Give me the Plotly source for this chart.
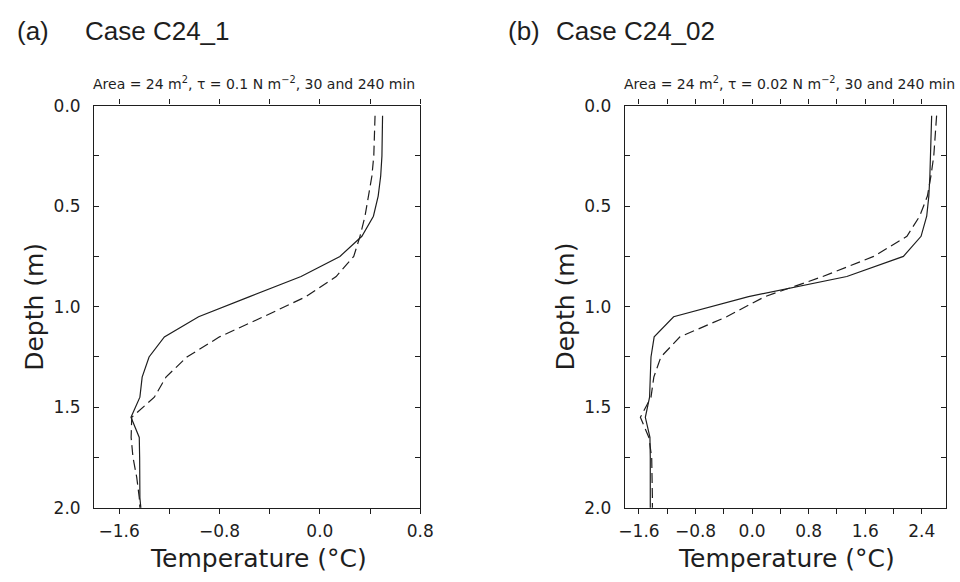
import plotly.graph_objects as go

# ---------------- data ----------------
depth_m = [0.05, 0.15, 0.25, 0.35, 0.45, 0.55, 0.65, 0.75, 0.85, 0.95,
           1.05, 1.15, 1.25, 1.35, 1.45, 1.55, 1.65, 1.75, 1.85, 1.95, 2.05]

# Case C24_1 (panel a)
a_30min = [0.50, 0.50, 0.495, 0.485, 0.465, 0.427, 0.335, 0.16, -0.15, -0.56,
           -0.967, -1.24, -1.362, -1.417, -1.435, -1.506, -1.44, -1.437, -1.436, -1.435, -1.42]
a_240min = [0.44, 0.437, 0.43, 0.415, 0.39, 0.36, 0.32, 0.27, 0.13, -0.11,
            -0.45, -0.80, -1.06, -1.227, -1.32, -1.50, -1.505, -1.49, -1.46, -1.44, -1.43]

# Case C24_02 (panel b)
b_30min = [2.54, 2.535, 2.525, 2.515, 2.50, 2.47, 2.39, 2.14, 1.34, -0.05,
           -1.11, -1.385, -1.43, -1.445, -1.45, -1.51, -1.445, -1.44, -1.44, -1.44, -1.44]
b_240min = [2.61, 2.595, 2.57, 2.53, 2.48, 2.37, 2.19, 1.72, 1.0, 0.18,
            -0.36, -1.02, -1.29, -1.39, -1.43, -1.58, -1.46, -1.42, -1.41, -1.41, -1.41]

depth_ticks = [0.0, 0.25, 0.5, 0.75, 1.0, 1.25, 1.5, 1.75, 2.0]
depth_ticklabels = ["0.0", "", "0.5", "", "1.0", "", "1.5", "", "2.0"]

a_temp_ticks = [-1.6, -1.2, -0.8, -0.4, 0.0, 0.4, 0.8]
a_temp_ticklabels = ["\u22121.6", "", "\u22120.8", "", "0.0", "", "0.8"]

b_temp_ticks = [-1.6, -1.2, -0.8, -0.4, 0.0, 0.4, 0.8, 1.2, 1.6, 2.0, 2.4, 2.8]
b_temp_ticklabels = ["\u22121.6", "", "\u22120.8", "", "0.0", "", "0.8", "", "1.6", "", "2.4", ""]

panel_letters = ["(a)", "(b)"]
panel_cases = ["Case C24_1", "Case C24_02"]
panel_subtitles = ["Area = 24 m<sup>2</sup>, \u03c4 = 0.1 N m<sup>\u22122</sup>, 30 and 240 min",
                   "Area = 24 m<sup>2</sup>, \u03c4 = 0.02 N m<sup>\u22122</sup>, 30 and 240 min"]
x_title = "Temperature (\u00b0C)"
y_title = "Depth (m)"

# ---------------- layout helpers ----------------
W, H = 960, 582
def fx(px):
    return px / W
def fy(py):
    return 1 - py / H

INK = "#1e1e1e"
LINE_W = 1.2

fig = go.Figure()

fig.add_trace(go.Scatter(x=a_30min, y=depth_m, mode="lines", name="30 min",
                         line=dict(color=INK, width=LINE_W), xaxis="x", yaxis="y",
                         showlegend=False))
fig.add_trace(go.Scatter(x=a_240min, y=depth_m, mode="lines", name="240 min",
                         line=dict(color=INK, width=LINE_W, dash="10px,5px"), xaxis="x", yaxis="y",
                         showlegend=False))
fig.add_trace(go.Scatter(x=b_30min, y=depth_m, mode="lines", name="30 min",
                         line=dict(color=INK, width=LINE_W), xaxis="x2", yaxis="y2",
                         showlegend=False))
fig.add_trace(go.Scatter(x=b_240min, y=depth_m, mode="lines", name="240 min",
                         line=dict(color=INK, width=LINE_W, dash="10px,5px"), xaxis="x2", yaxis="y2",
                         showlegend=False))

tickfont = dict(family="DejaVu Sans", size=17, color=INK)

common_x = dict(showgrid=False, zeroline=False, showline=True, linecolor=INK, linewidth=1.2,
                mirror="ticks", ticks="outside", ticklen=5, tickwidth=1.1, tickcolor=INK,
                tickfont=tickfont, fixedrange=True, ticklabelstandoff=3)
common_y = dict(showgrid=False, zeroline=False, showline=True, linecolor=INK, linewidth=1.2,
                mirror="ticks", ticks="inside", ticklen=5, tickwidth=1.1, tickcolor=INK,
                tickfont=tickfont, fixedrange=True, range=[2.0, 0.0],
                tickmode="array", tickvals=depth_ticks, ticktext=depth_ticklabels,
                ticklabelstandoff=9)

# panel pixel boxes
a_left, a_right = 90, 423
b_left = 632
top, bottom = 99, 515.5
b_xmax = -1.8 + (W - b_left) / 72.2

fig.update_layout(
    width=W, height=H,
    margin=dict(l=0, r=0, t=0, b=0),
    paper_bgcolor="white", plot_bgcolor="white",
    xaxis=dict(common_x, domain=[fx(a_left), fx(a_right)], range=[-1.8, 0.8],
               tickmode="array", tickvals=a_temp_ticks, ticktext=a_temp_ticklabels,
               anchor="y"),
    yaxis=dict(common_y, domain=[fy(bottom), fy(top)], anchor="x"),
    xaxis2=dict(common_x, domain=[fx(b_left), 1.0], range=[-1.8, b_xmax],
                tickmode="array", tickvals=b_temp_ticks, ticktext=b_temp_ticklabels,
                anchor="y2"),
    yaxis2=dict(common_y, domain=[fy(bottom), fy(top)], anchor="x2"),
)

annotations = []
header_font = dict(family="Liberation Sans", size=26, color=INK)
sub_font = dict(family="DejaVu Sans", size=14, color=INK)
title_font = dict(family="DejaVu Sans", size=25, color=INK)

for letter, case, sub, left, letter_x, case_x, xt_center, yt_center in [
    (panel_letters[0], panel_cases[0], panel_subtitles[0], a_left, 9.5, 79, 257.5, 29),
    (panel_letters[1], panel_cases[1], panel_subtitles[1], b_left, 511, 559.5, 797, 571),
]:
    annotations.append(dict(text=letter, x=fx(letter_x), y=fy(22), xref="paper", yref="paper",
                            xanchor="left", yanchor="middle", showarrow=False, font=header_font))
    annotations.append(dict(text=case, x=fx(case_x), y=fy(22), xref="paper", yref="paper",
                            xanchor="left", yanchor="middle", showarrow=False, font=header_font))
    annotations.append(dict(text=sub, x=fx(left - 3), y=fy(76), xref="paper", yref="paper",
                            xanchor="left", yanchor="middle", showarrow=False, font=sub_font))
    annotations.append(dict(text=x_title, x=fx(xt_center), y=fy(568), xref="paper", yref="paper",
                            xanchor="center", yanchor="middle", showarrow=False, font=title_font))
    annotations.append(dict(text=y_title, x=fx(yt_center), y=fy(307), xref="paper", yref="paper",
                            xanchor="center", yanchor="middle", showarrow=False, font=title_font,
                            textangle=-90))

fig.update_layout(annotations=annotations)

fig.write_html("out.html")
